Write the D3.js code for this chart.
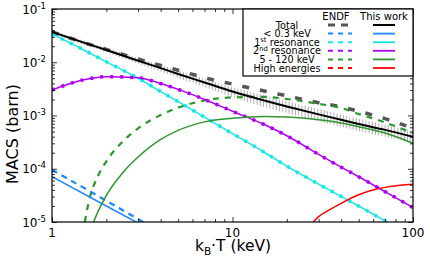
<!DOCTYPE html>
<html>
<head>
<meta charset="utf-8">
<script src="https://cdn.jsdelivr.net/npm/d3@7"></script>
<style>
    body { margin: 0; background: #fff; }
    svg { display: block; font-family: "DejaVu Sans", sans-serif; }
</style>
</head>
<body>
<div id="chart"></div>
<script>
// temperature grid (keV) shared by the full-range curves
const kT = [1, 1.5, 2, 3, 4, 5, 7, 10, 15, 20, 30, 40, 50, 70, 100];

// MACS (barn)
const totalWork = [3.72e-2, 2.34e-2, 1.70e-2, 1.07e-2, 7.76e-3, 6.03e-3, 4.17e-3, 2.82e-3, 1.91e-3, 1.48e-3, 1.05e-3, 8.32e-4, 6.92e-4, 5.37e-4, 3.98e-4];
const totalRelErr = [0.07, 0.09, 0.10, 0.12, 0.14, 0.16, 0.18, 0.21, 0.24, 0.25, 0.26, 0.26, 0.26, 0.26, 0.25];
const totalEndf = [3.72e-2, 2.34e-2, 1.74e-2, 1.15e-2, 8.71e-3, 7.08e-3, 5.13e-3, 3.89e-3, 2.88e-3, 2.34e-3, 1.74e-3, 1.45e-3, 1.20e-3, 8.71e-4, 5.75e-4];
const res1Work = [3.39e-2, 1.70e-2, 1.02e-2, 5.01e-3, 2.82e-3, 1.82e-3, 9.33e-4, 4.57e-4, 2.04e-4, 1.12e-4, 5.13e-5, 3.02e-5, 2.00e-5, 1.05e-5, 5.37e-6];
const res1Endf = [3.39e-2, 1.70e-2, 1.02e-2, 5.01e-3, 2.82e-3, 1.82e-3, 9.33e-4, 4.57e-4, 2.04e-4, 1.12e-4, 5.13e-5, 3.02e-5, 2.00e-5, 1.05e-5, 5.37e-6];
const res2Work = [3.02e-3, 4.68e-3, 5.37e-3, 5.13e-3, 3.98e-3, 3.09e-3, 2.00e-3, 1.20e-3, 6.76e-4, 4.17e-4, 1.86e-4, 1.07e-4, 7.08e-5, 3.72e-5, 1.86e-5];
const res2Endf = [3.02e-3, 4.68e-3, 5.37e-3, 5.13e-3, 3.98e-3, 3.09e-3, 2.00e-3, 1.20e-3, 6.76e-4, 4.17e-4, 1.86e-4, 1.07e-4, 7.08e-5, 3.72e-5, 1.86e-5];

// partial-range curves have their own temperatures
const lowT = [1, 2, 3];
const lowWork = [7.08e-5, 2.00e-5, 9.55e-6];
const lowEndfT = [1, 2, 3.2];
const lowEndf = [9.55e-5, 2.51e-5, 1.00e-5];

const midT = [1.7, 1.8, 2, 2.5, 3, 4, 5, 7, 10, 15, 20, 30, 40, 50, 70, 100];
const midWork = [1.00e-5, 1.58e-5, 3.16e-5, 8.91e-5, 1.66e-4, 3.55e-4, 5.25e-4, 7.59e-4, 8.91e-4, 9.55e-4, 9.33e-4, 8.32e-4, 7.24e-4, 6.17e-4, 4.68e-4, 3.02e-4];
const midEndfT = [1.52, 1.6, 1.8, 2, 2.5, 3, 4, 5, 7, 10, 15, 20, 30, 40, 50, 70, 100];
const midEndf = [1.00e-5, 2.40e-5, 7.41e-5, 1.38e-4, 3.39e-4, 5.75e-4, 1.02e-3, 1.41e-3, 1.91e-3, 2.19e-3, 2.24e-3, 2.04e-3, 1.66e-3, 1.38e-3, 1.07e-3, 7.41e-4, 4.68e-4];

const highT = [28, 30, 35, 40, 50, 60, 70, 85, 100];
const highWork = [1.00e-5, 1.26e-5, 1.74e-5, 2.24e-5, 3.24e-5, 3.98e-5, 4.47e-5, 4.90e-5, 5.13e-5];

// axes
const xMajor = [1, 10, 100];
const yMajorExp = [-5, -4, -3, -2, -1];

// legend
const legendLabels = [
    [["Total"]],
    [["< 0.3 keV"]],
    [["1"], ["st", true], [" resonance"]],
    [["2"], ["nd", true], [" resonance"]],
    [["5 - 120 keV"]],
    [["High energies"]]
];
const legendColors = ["#555555", "#1e88ff", "#18e6e6", "#b000f0", "#2e962e", "#ff0000"];

const W = 430, H = 258;
const plot = {left: 52, right: 413, top: 9, bottom: 222};

const svg = d3.select("#chart").append("svg")
    .attr("width", W)
    .attr("height", H);

const x = d3.scaleLog().domain([1, 100]).range([plot.left, plot.right]);
const y = d3.scaleLog().domain([1e-5, 1e-1]).range([plot.bottom, plot.top]);

const defs = svg.append("defs");
defs.append("clipPath").attr("id", "plotClip")
    .append("rect")
    .attr("x", plot.left).attr("y", plot.top)
    .attr("width", plot.right - plot.left).attr("height", plot.bottom - plot.top);

// vertical hatching for the uncertainty band
const hatch = defs.append("pattern")
    .attr("id", "hatch")
    .attr("patternUnits", "userSpaceOnUse")
    .attr("width", 3.2).attr("height", 10);
hatch.append("line")
    .attr("x1", 1).attr("x2", 1).attr("y1", 0).attr("y2", 10)
    .attr("stroke", "#8a8a8a").attr("stroke-width", 0.8);

const zip = (xs, ys) => xs.map((v, i) => [v, ys[i]]);

const line = d3.line()
    .x(d => x(d[0]))
    .y(d => y(d[1]))
    .curve(d3.curveMonotoneX);

const g = svg.append("g").attr("clip-path", "url(#plotClip)");

// uncertainty band of total (this work)
const band = d3.area()
    .x(d => x(d.t))
    .y0(d => y(d.v * (1 - d.e)))
    .y1(d => y(d.v * (1 + d.e)))
    .curve(d3.curveMonotoneX);
g.append("path")
    .datum(kT.map((t, i) => ({t: t, v: totalWork[i], e: totalRelErr[i]})))
    .attr("d", band)
    .attr("fill", "url(#hatch)");

// ENDF curves (dashed)
const endfSeries = [
    {data: zip(kT, totalEndf), color: legendColors[0], width: 3.5, dash: "7,11"},
    {data: zip(lowEndfT, lowEndf), color: legendColors[1], width: 2.2, dash: "6,5"},
    {data: zip(kT, res1Endf), color: legendColors[2], width: 3.5, dash: "3,7"},
    {data: zip(kT, res2Endf), color: legendColors[3], width: 3.5, dash: "3,7"},
    {data: zip(midEndfT, midEndf), color: legendColors[4], width: 2.2, dash: "6,6"}
];
endfSeries.forEach(s => {
    g.append("path")
        .datum(s.data)
        .attr("d", line)
        .attr("fill", "none")
        .attr("stroke", s.color)
        .attr("stroke-width", s.width)
        .attr("stroke-dasharray", s.dash);
});

// this work (solid)
const workSeries = [
    {data: zip(lowT, lowWork), color: legendColors[1], width: 1.5},
    {data: zip(kT, res1Work), color: legendColors[2], width: 1.5},
    {data: zip(kT, res2Work), color: legendColors[3], width: 1.5},
    {data: zip(midT, midWork), color: legendColors[4], width: 1.5},
    {data: zip(highT, highWork), color: legendColors[5], width: 1.5},
    {data: zip(kT, totalWork), color: "#000", width: 2}
];
workSeries.forEach(s => {
    g.append("path")
        .datum(s.data)
        .attr("d", line)
        .attr("fill", "none")
        .attr("stroke", s.color)
        .attr("stroke-width", s.width);
});

// minor tick values
const xMinor = [];
[1, 10].forEach(b => { for (let k = 2; k <= 9; k++) xMinor.push(b * k); });
const yMinor = [];
yMajorExp.slice(0, -1).forEach(e => { for (let k = 2; k <= 9; k++) yMinor.push(k * Math.pow(10, e)); });
const yMajor = yMajorExp.map(e => Math.pow(10, e));

// inward ticks on all four sides
function ticks(axis, vals, size, transform) {
    svg.append("g")
        .attr("transform", transform)
        .call(axis.tickValues(vals).tickSize(-size).tickFormat(""))
        .call(a => a.select(".domain").remove())
        .call(a => a.selectAll("line").attr("stroke", "#000").attr("stroke-width", 0.8));
}
ticks(d3.axisBottom(x), xMajor, 5, `translate(0,${plot.bottom})`);
ticks(d3.axisBottom(x), xMinor, 3, `translate(0,${plot.bottom})`);
ticks(d3.axisTop(x), xMajor, 5, `translate(0,${plot.top})`);
ticks(d3.axisTop(x), xMinor, 3, `translate(0,${plot.top})`);
ticks(d3.axisLeft(y), yMajor, 5, `translate(${plot.left},0)`);
ticks(d3.axisLeft(y), yMinor, 3, `translate(${plot.left},0)`);
ticks(d3.axisRight(y), yMajor, 5, `translate(${plot.right},0)`);
ticks(d3.axisRight(y), yMinor, 3, `translate(${plot.right},0)`);

// frame
svg.append("rect")
    .attr("x", plot.left).attr("y", plot.top)
    .attr("width", plot.right - plot.left).attr("height", plot.bottom - plot.top)
    .attr("fill", "none").attr("stroke", "#000").attr("stroke-width", 1.2);

// tick labels
svg.append("g").selectAll("text")
    .data(xMajor)
    .join("text")
    .attr("x", d => x(d))
    .attr("y", 237)
    .attr("text-anchor", "middle")
    .attr("font-size", 12)
    .text(d => d);

const yl = svg.append("g").selectAll("text")
    .data(yMajorExp)
    .join("text")
    .attr("x", 46)
    .attr("y", d => y(Math.pow(10, d)) + 4.5)
    .attr("text-anchor", "end")
    .attr("font-size", 12);
yl.append("tspan").text("10");
yl.append("tspan").attr("font-size", 8.5).attr("dy", -5).text(d => d);

// axis titles
const xt = svg.append("text")
    .attr("x", 233).attr("y", 251)
    .attr("text-anchor", "middle")
    .attr("font-size", 15.5);
xt.append("tspan").text("k");
xt.append("tspan").attr("font-size", 10.5).attr("dy", 3.5).text("B");
xt.append("tspan").attr("dy", -3.5).text("\u00b7T (keV)");

svg.append("text")
    .attr("transform", "translate(18,134) rotate(-90)")
    .attr("text-anchor", "middle")
    .attr("font-size", 16)
    .text("MACS (barn)");

// legend
const lg = svg.append("g");
lg.append("rect")
    .attr("x", 243).attr("y", plot.top)
    .attr("width", plot.right - 243).attr("height", 67)
    .attr("fill", "#fff").attr("stroke", "#000").attr("stroke-width", 1.2);
lg.append("text").attr("x", 336).attr("y", 20).attr("text-anchor", "middle").attr("font-size", 10).text("ENDF");
lg.append("text").attr("x", 384).attr("y", 20).attr("text-anchor", "middle").attr("font-size", 10).text("This work");

legendLabels.forEach((parts, i) => {
    const cy = 25 + i * 8.6;
    const t = lg.append("text")
        .attr("x", 287).attr("y", cy + 3.5)
        .attr("text-anchor", "middle")
        .attr("font-size", 9.7);
    let up = false;
    parts.forEach(p => {
        const ts = t.append("tspan").text(p[0]);
        if (p[1]) { ts.attr("font-size", 6.8).attr("dy", -3.3); up = true; }
        else if (up) { ts.attr("dy", 3.3); up = false; }
    });
    lg.append("line")
        .attr("x1", 328).attr("x2", 352).attr("y1", cy).attr("y2", cy)
        .attr("stroke", legendColors[i])
        .attr("stroke-width", i === 0 ? 3 : 2)
        .attr("stroke-dasharray", i === 0 ? "7,6" : "5,5");
    lg.append("line")
        .attr("x1", 373).attr("x2", 395).attr("y1", cy).attr("y2", cy)
        .attr("stroke", i === 0 ? "#000" : legendColors[i])
        .attr("stroke-width", i === 0 ? 2 : 1.8);
});
</script>
</body>
</html>
